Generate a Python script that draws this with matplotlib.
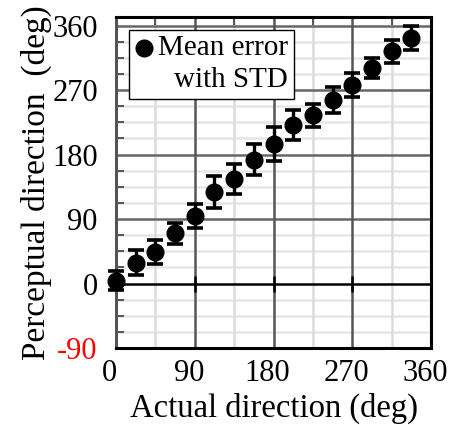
import matplotlib
matplotlib.use("Agg")
import matplotlib.pyplot as plt
import matplotlib.transforms as mtransforms
import numpy as np
from matplotlib.patches import Rectangle

actual = [0, 22.5, 45, 67.5, 90, 112.5, 135, 157.5, 180, 202.5, 225, 247.5, 270, 292.5, 315, 337.5]
perceived = [4, 29, 44, 70, 94, 128, 146, 173, 195, 221, 235, 256, 277, 301, 324, 343]
std = [13, 17.5, 17, 15, 16.5, 22, 20.5, 22, 23.5, 21, 16, 18, 17, 14, 15.5, 17]
xticks = [0, 90, 180, 270, 360]
yticks = [-90, 0, 90, 180, 270, 360]
x_minor = [45, 135, 225, 315]
y_minor = np.arange(-67.5, 372, 22.5)

plt.rcParams['font.family'] = ['Liberation Serif', 'DejaVu Serif']

fig = plt.figure(figsize=(4.51, 4.25), dpi=100)
ax = fig.add_axes([0.257, 0.181, 0.699, 0.779])

ax.set_xlim(0, 360)
ax.set_ylim(-90, 372)
ax.set_xticks(xticks)
ax.set_yticks(yticks)
ax.set_xticks(x_minor, minor=True)
ax.set_yticks(y_minor, minor=True)

# grid drawn manually for layering
for y in y_minor:
    if y % 90 != 0:
        ax.axhline(y, color='#e6e6e6', lw=1.8, zorder=0)
for x in x_minor:
    ax.axvline(x, color='#dcdcdc', lw=1.8, zorder=0.2)
for y in yticks[2:]:
    ax.axhline(y, color='#666666', lw=1.8, zorder=0.5)
for x in xticks[1:-1]:
    ax.axvline(x, color='#555555', lw=1.8, zorder=0.6)
ax.axhline(0, color='black', lw=1.8, zorder=1)
ax.plot(xticks[1:-1], [0] * 3, ls='none', marker='|', markersize=12, mew=1.8,
        color='black', zorder=1)

ax.errorbar(actual, perceived, yerr=std, fmt='o', color='black', ms=12,
            ecolor='black', elinewidth=2.4, capsize=6, capthick=2.6, zorder=3,
            clip_on=False)

for s in ['top', 'right', 'bottom']:
    ax.spines[s].set_color('black')
    ax.spines[s].set_linewidth(2.2)
ax.spines['left'].set_color('#555555')
ax.spines['left'].set_linewidth(2.2)

ax.set_yticklabels([str(v) for v in yticks])
ax.get_yticklabels()[0].set_color('red')
ax.tick_params(which='major', axis='both', length=0, labelsize=22)
ax.tick_params(which='major', axis='y', pad=13)
ax.tick_params(which='major', axis='x', pad=8)
ax.tick_params(which='minor', axis='y', direction='in', length=6, width=1.4,
               color='#555555', left=True, labelleft=False)
ax.tick_params(which='minor', axis='x', direction='in', length=6, width=1.4,
               color='#555555', top=True, bottom=False, labelbottom=False)

offset = mtransforms.ScaledTranslation(-6 / 100, 0, fig.dpi_scale_trans)
for lbl in ax.get_xticklabels():
    lbl.set_transform(lbl.get_transform() + offset)

ax.set_xlabel('Actual direction (deg)', fontsize=23.5, labelpad=3)
ax.set_ylabel('Perceptual direction  (deg)', fontsize=24, labelpad=0)

# legend box
ax.add_patch(Rectangle((0.041, 0.752), 0.524, 0.209, transform=ax.transAxes,
                       fc='white', ec='black', lw=1.0, zorder=5))
ax.text(0.545, 0.906, 'Mean error', transform=ax.transAxes, fontsize=21,
        ha='right', va='center', zorder=6)
ax.text(0.545, 0.81, 'with STD', transform=ax.transAxes, fontsize=21,
        ha='right', va='center', zorder=6)
ax.plot([0.089], [0.906], transform=ax.transAxes, marker='o', ms=12, color='black',
        zorder=7, clip_on=False)

fig.savefig('out.png', dpi=100)
